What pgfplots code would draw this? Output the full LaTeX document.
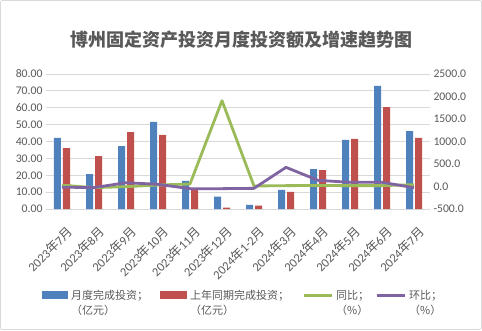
\documentclass[border=0pt]{standalone}
\usepackage{pgfplots}
\pgfplotsset{compat=1.18}
\usepackage{pgfplotstable}
\usepackage{fontspec}
\setmainfont{Carlito}
\newfontfamily\cjk{Noto Sans CJK SC}
\definecolor{txt}{HTML}{595959}
\definecolor{gridc}{HTML}{D9D9D9}
\definecolor{cblue}{HTML}{4F81BD}
\definecolor{cred}{HTML}{C0504D}
\definecolor{cgreen}{HTML}{9BBB59}
\definecolor{cpurple}{HTML}{8064A2}

\pgfplotstableread{
x m p tb hb
0 42.1 36.1 30 -15
1 20.7 31.4 -25 -25
2 37.3 45.6 -4 85
3 51.6 43.9 33 48
4 16.6 11.7 56 -48
5 7.3 0.8 1907 -48
6 2.4 2.0 11 -41
7 11.3 10.1 19 426
8 23.7 23.1 22 137
9 40.9 41.5 19 93
10 72.9 60.4 19 93
11 46.2 42.1 41 -26
}\data

\newcommand{\legtext}[3]{\makebox[#1][l]{\hspace{3pt}\begin{tabular}[t]{@{}l@{}}#2\\#3\end{tabular}}}

\begin{document}
\begin{tikzpicture}
\useasboundingbox (0pt,0pt) rectangle (482pt,330pt);
\draw[color=gridc, line width=0.8pt, rounded corners=2pt] (0.5pt,0.5pt) rectangle (481.5pt,329.5pt);
\node[font=\cjk\bfseries\fontsize{18}{20}\selectfont, text=txt] at (241pt,290pt) {博州固定资产投资月度投资额及增速趋势图};

\begin{axis}[at={(46pt,121pt)}, anchor=south west, scale only axis,
  width=384pt, height=135pt,
  xmin=-0.5, xmax=11.5, ymin=0, ymax=80,
  ybar=2pt, bar width=7pt,
  axis line style={draw=none}, tick style={draw=none},
  ytick={0,10,...,80},
  yticklabels={0.00,10.00,20.00,30.00,40.00,50.00,60.00,70.00,80.00},
  yticklabel style={font=\fontsize{11.7}{13}\selectfont, text=txt},
  ymajorgrids, grid style={gridc, line width=0.8pt},
  xtick={0,...,11},
  xticklabels={2023{\cjk 年}7{\cjk 月},2023{\cjk 年}8{\cjk 月},2023{\cjk 年}9{\cjk 月},2023{\cjk 年}10{\cjk 月},2023{\cjk 年}11{\cjk 月},2023{\cjk 年}12{\cjk 月},2024{\cjk 年}1-2{\cjk 月},2024{\cjk 年}3{\cjk 月},2024{\cjk 年}4{\cjk 月},2024{\cjk 年}5{\cjk 月},2024{\cjk 年}6{\cjk 月},2024{\cjk 年}7{\cjk 月}},
  xticklabel style={xshift=4pt, yshift=-9pt, rotate=45, anchor=north east, font=\fontsize{12.5}{13}\selectfont, text=txt, inner sep=2pt},
  legend columns=4,
  legend style={draw=none, fill=none, at={(-0.0104,-0.589)}, anchor=north west,
    inner sep=0pt, column sep=0pt, row sep=0pt,
    nodes={inner sep=0pt, anchor=base west},
    font=\cjk\fontsize{11}{15}\selectfont, text=txt,
    /tikz/every even column/.style={column sep=0pt},
    /tikz/every odd column/.style={column sep=0pt}},
]
\addplot[fill=cblue, draw=none,
  legend image code/.code={\fill[cblue] (0pt,0pt) rectangle (26pt,8pt);}]
  table[x=x,y=m]{\data};
\addlegendentry{\legtext{92pt}{月度完成投资；}{（亿元）}}
\addplot[fill=cred, draw=none,
  legend image code/.code={\fill[cred] (0pt,0pt) rectangle (27pt,8pt);}]
  table[x=x,y=p]{\data};
\addlegendentry{\legtext{115pt}{上年同期完成投资；}{（亿元）}}
\addlegendimage{legend image code/.code={\draw[cgreen, line width=3pt] (0pt,4pt) -- (28pt,4pt);}}
\addlegendentry{\legtext{42pt}{同比；}{（\%）}}
\addlegendimage{legend image code/.code={\draw[cpurple, line width=3pt] (0pt,4pt) -- (28pt,4pt);}}
\addlegendentry{\legtext{38pt}{环比；}{（\%）}}
\end{axis}

\begin{axis}[at={(46pt,121pt)}, anchor=south west, scale only axis,
  width=384pt, height=135pt,
  xmin=-0.5, xmax=11.5, ymin=-500, ymax=2500,
  axis y line*=right, axis x line=none,
  axis line style={draw=none}, tick style={draw=none},
  ytick={-500,0,500,1000,1500,2000,2500},
  yticklabels={-500.0,0.0,500.0,1000.0,1500.0,2000.0,2500.0},
  yticklabel style={font=\fontsize{11.7}{13}\selectfont, text=txt},
]
\addplot[cgreen, line width=2.8pt, line join=round] table[x=x,y=tb]{\data};
\addplot[cpurple, line width=2.8pt, line join=round] table[x=x,y=hb]{\data};
\end{axis}
\end{tikzpicture}
\end{document}
